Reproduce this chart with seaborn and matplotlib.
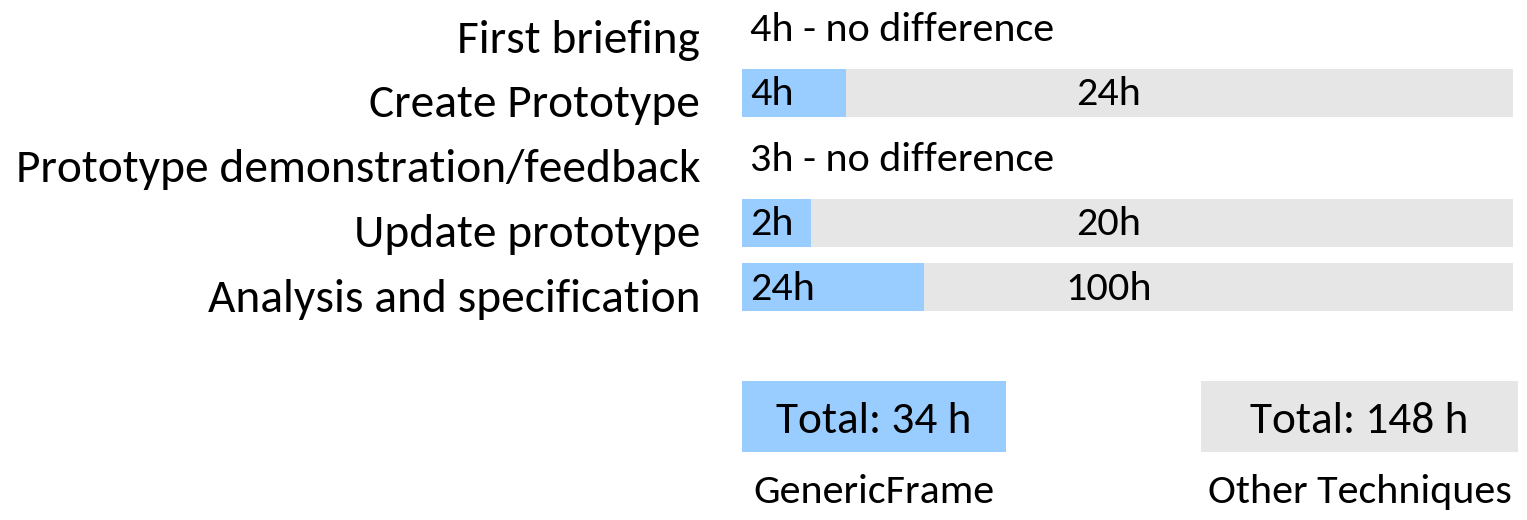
import numpy as np
import pandas as pd
import matplotlib
matplotlib.use("Agg")
import matplotlib.pyplot as plt
from matplotlib import font_manager as fm
import seaborn as sns

# ---------------- data ----------------
categories = ["First briefing", "Create Prototype",
              "Prototype demonstration/feedback", "Update prototype",
              "Analysis and specification"]
generic_hours = [4, 4, 3, 2, 24]
other_hours = [4, 24, 3, 20, 100]
# length of the GenericFrame (blue) bar relative to the grey bar
generic_share = [0.0, 0.135, 0.0, 0.0895, 0.236]
methods = ["GenericFrame", "Other Techniques"]
totals = [34, 148]

BLUE = "#99CCFF"
GRAY = "#E6E6E6"

sns.set_theme(style="white")
avail = {f.name for f in fm.fontManager.ttflist}
FONT = "DejaVu Sans"
for cand in ["Carlito", "Liberation Sans Narrow", "Open Sans", "Noto Sans", "Lato"]:
    if cand in avail:
        FONT = cand
        break
plt.rcParams["font.family"] = [FONT, "DejaVu Sans"]

W, H = 1527, 520
fig = plt.figure(figsize=(W / 100, H / 100), dpi=100)
renderer = fig.canvas.get_renderer()


def fit_size(s, target_px):
    t = fig.text(0, 0, s, fontsize=20)
    w = t.get_window_extent(renderer).width
    t.remove()
    return 20 * target_px / w


label_fs = fit_size("Prototype demonstration/feedback", 683)
row_fs = fit_size("4h - no difference", 304)
total_fs = fit_size("Total: 148 h", 219)
method_fs = fit_size("Other Techniques", 303)

# ---------------- main bar axes ----------------
x0, x1 = 742, 1513
row0, step = 28.2, 64.8          # pixel centre of first row, row spacing
top_px = row0 - step / 2
bot_px = row0 + step * 4.5
ax = fig.add_axes([x0 / W, 1 - bot_px / H, (x1 - x0) / W, (bot_px - top_px) / H])

differs = [g != o for g, o in zip(generic_hours, other_hours)]
df = pd.DataFrame({
    "task": categories,
    "other": [1.0 if d else 0.0 for d in differs],
    "generic": generic_share,
})
bar_w = 48 / step
sns.barplot(data=df, y="task", x="other", order=categories, orient="h",
            color=GRAY, width=bar_w, linewidth=0, saturation=1, ax=ax)
sns.barplot(data=df, y="task", x="generic", order=categories, orient="h",
            color=BLUE, width=bar_w, linewidth=0, saturation=1, ax=ax)
ax.set_xlim(0, 1)
ax.set_ylim(4.5, -0.5)
ax.axis("off")

for i, (cat, g, o, d) in enumerate(zip(categories, generic_hours, other_hours, differs)):
    # category label on the left
    ax.annotate(cat, xy=(0, i), xycoords=("axes fraction", "data"),
                xytext=(-42, -24.5), textcoords="offset pixels",
                ha="right", va="baseline", fontsize=label_fs, color="black",
                annotation_clip=False)
    if d:
        ax.annotate(f"{g}h", xy=(0, i), xycoords=("axes fraction", "data"),
                    xytext=(8, -12.5), textcoords="offset pixels",
                    ha="left", va="baseline", fontsize=row_fs, color="black")
        ax.annotate(f"{o}h", xy=(0.476, i), xycoords=("data", "data"),
                    xytext=(0, -12.5), textcoords="offset pixels",
                    ha="center", va="baseline", fontsize=row_fs, color="black")
    else:
        ax.annotate(f"{g}h - no difference", xy=(0, i),
                    xycoords=("axes fraction", "data"),
                    xytext=(8, -13), textcoords="offset pixels",
                    ha="left", va="baseline", fontsize=row_fs, color="black")

# ---------------- total boxes ----------------
boxes = [(742, 1006, BLUE), (1201, 1518, GRAY)]
by0, by1 = 381, 451.5
for (bx0, bx1, col), m, tot in zip(boxes, methods, totals):
    bax = fig.add_axes([bx0 / W, 1 - by1 / H, (bx1 - bx0) / W, (by1 - by0) / H])
    bax.set_facecolor(col)
    bax.set_xticks([])
    bax.set_yticks([])
    for sp in bax.spines.values():
        sp.set_visible(False)
    bax.text(0.5, (by1 - 433) / (by1 - by0), f"Total: {tot} h",
             transform=bax.transAxes, ha="center", va="baseline",
             fontsize=total_fs, color="black")
    bax.text(0.5, -(503 - by1) / (by1 - by0), m, transform=bax.transAxes,
             ha="center", va="baseline", fontsize=method_fs, color="black",
             clip_on=False)

fig.savefig("out.png", dpi=100, facecolor="white")
